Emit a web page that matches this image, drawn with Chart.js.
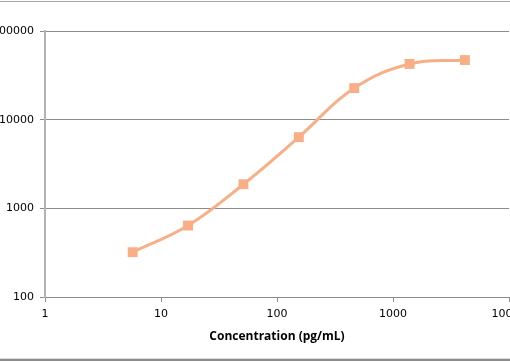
<!DOCTYPE html>
<html>
<head>
<meta charset="utf-8">
<script src="https://cdn.jsdelivr.net/npm/chart.js@4/dist/chart.umd.min.js"></script>
<style>
  html, body { margin: 0; padding: 0; background: #fff; overflow: hidden; }
  .frame { position: relative; width: 510px; height: 362px; overflow: hidden; }
  .frame:before { content: ''; position: absolute; left: 0; right: 0; top: 1px; border-top: 1px solid #a6a6a6; }
  .frame:after { content: ''; position: absolute; left: 0; right: 0; top: 358px; border-top: 1px solid #d9d9d9; border-bottom: 2px solid #8c8c8c; }
  canvas { display: block; }
</style>
</head>
<body>
<div class="frame">
  <canvas id="curveChart" width="516" height="362"></canvas>
</div>
<script>
// 농도 / 신호 값 (log-log)
var concentration = [5.7, 17.1, 51.4, 154.3, 463, 1389, 4167];
var signal = [320, 640, 1870, 6350, 22700, 42500, 47000];
var xTicks = [1, 10, 100, 1000, 10000];
var yTicks = [100, 1000, 10000, 100000];
var xTitle = 'Concentration (pg/mL)';

var lineColor = '#f9ae86';

var points = concentration.map(function (c, i) {
    return { x: c, y: signal[i] };
});

var ctx = document.getElementById('curveChart').getContext('2d');
var chart = new Chart(ctx, {
    type: 'line',
    data: {
        datasets: [{
            data: points,
            borderColor: lineColor,
            backgroundColor: lineColor,
            borderWidth: 3,
            tension: 0.4,
            pointStyle: 'rect',
            pointRadius: 7,
            pointHoverRadius: 7,
            pointBorderWidth: 0,
        }]
    },
    options: {
        responsive: false,
        animation: false,
        layout: { padding: { top: 31, right: 0, left: 0, bottom: 0 } },
        plugins: {
            legend: { display: false },
            tooltip: { enabled: false },
        },
        scales: {
            x: {
                type: 'logarithmic',
                min: 1,
                max: 10000,
                afterBuildTicks: function (scale) {
                    scale.ticks = xTicks.map(function (v) { return { value: v }; });
                },
                afterFit: function (scale) {
                    scale.paddingLeft = 0;
                    scale.paddingRight = 0;
                    scale.height = 65;
                },
                ticks: {
                    autoSkip: false,
                    maxRotation: 0,
                    padding: 6,
                    color: '#000',
                    font: { family: 'DejaVu Sans', size: 11 },
                    callback: function (v) { return String(v); },
                },
                grid: {
                    drawOnChartArea: false,
                    drawTicks: true,
                    tickLength: 5,
                    color: '#8c8c8c',
                },
                border: { color: '#8c8c8c', width: 1 },
                title: {
                    display: true,
                    text: xTitle,
                    color: '#000',
                    font: { family: 'Open Sans', size: 12, weight: 'bold' },
                    padding: { top: 4, bottom: 18 },
                },
            },
            y: {
                type: 'logarithmic',
                min: 100,
                max: 100000,
                afterBuildTicks: function (scale) {
                    scale.ticks = yTicks.map(function (v) { return { value: v }; });
                },
                afterFit: function (scale) {
                    scale.paddingTop = 0;
                    scale.paddingBottom = 0;
                    scale.width = 45;
                },
                ticks: {
                    autoSkip: false,
                    padding: 6,
                    color: '#000',
                    font: { family: 'DejaVu Sans', size: 11 },
                    callback: function (v) { return String(v); },
                },
                grid: {
                    color: '#8c8c8c',
                    drawTicks: true,
                    tickLength: 5,
                },
                border: { color: '#b3b3b3', width: 2 },
            }
        }
    }
});
</script>
</body>
</html>
